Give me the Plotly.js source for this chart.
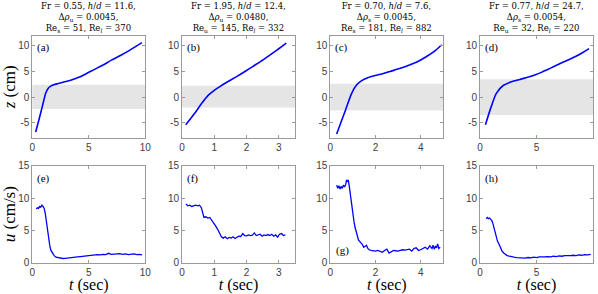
<!DOCTYPE html>
<html>
<head>
<meta charset="utf-8">
<script src="https://cdn.plot.ly/plotly-3.0.1.min.js"></script>
<style>html,body{margin:0;padding:0;background:#fff;}#plot{width:598px;height:294px;}</style>
</head>
<body>
<div id="plot"></div>
<script>
// ---- data ----
const tA = [0.3,0.6,0.9,1.2,1.4,1.6,1.9,2.3,2.8,3.4,4.1,4.8,5.5,6.3,7.0,7.8,8.6,9.7];
const zA = [-6.8,-4.3,-1.7,0.85,1.7,2.1,2.4,2.65,2.95,3.3,3.85,4.6,5.4,6.3,7.2,8.1,9.1,10.6];
const tB = [0.115,0.4,0.6,0.81,1.02,1.17,1.4,1.69,1.95,2.2,2.45,2.7,2.95,3.23];
const zB = [-5.4,-3.1,-1.3,0.35,1.42,2.05,2.95,4.0,5.0,6.0,7.0,8.1,9.2,10.5];
const tC = [0.28,0.65,0.95,1.17,1.39,1.65,1.98,2.35,2.64,3.1,3.53,3.9,4.26,4.6,4.93];
const zC = [-7.2,-2.8,0.78,2.4,3.2,3.75,4.2,4.6,5.0,5.6,6.3,7.0,7.9,8.9,10.2];
const tD = [0.48,1.0,1.46,2.05,2.6,3.1,3.7,4.3,4.9,5.48,6.2,6.96,7.7,8.45,9.1,9.65];
const zD = [-5.4,-1.8,0.78,2.26,2.85,3.2,3.55,3.9,4.35,4.87,5.6,6.4,7.15,7.9,8.7,9.45];

const tE = [0.35,0.45,0.55,0.65,0.75,0.85,0.95,1.05,1.15,1.25,1.35,1.45,1.55,1.65,1.8,1.95,2.1,2.3,2.5,2.7,2.9,3.1,3.3,3.5,3.75,4.0,4.25,4.5,4.75,5.0,5.25,5.5,5.75,6.0,6.25,6.5,6.75,7.0,7.25,7.5,7.75,8.0,8.25,8.5,8.75,9.0,9.25,9.5,9.7];
const uE = [8.3,8.5,8.4,8.7,8.6,8.9,8.7,8.4,7.6,6.2,4.8,3.6,2.6,1.9,1.35,1.05,0.85,0.75,0.7,0.65,0.68,0.7,0.75,0.8,0.85,0.9,0.95,1.0,1.05,1.15,1.2,1.15,1.25,1.2,1.3,1.25,1.45,1.3,1.35,1.3,1.4,1.3,1.35,1.25,1.3,1.35,1.25,1.3,1.2];
const tF = [0.12,0.18,0.24,0.3,0.36,0.42,0.48,0.54,0.6,0.64,0.68,0.74,0.8,0.86,0.92,0.98,1.04,1.1,1.16,1.22,1.28,1.34,1.4,1.46,1.52,1.58,1.64,1.7,1.76,1.82,1.88,1.94,2.0,2.06,2.12,2.18,2.24,2.3,2.36,2.42,2.48,2.54,2.6,2.66,2.72,2.78,2.84,2.9,2.96,3.02,3.08,3.14,3.2];
const uF = [9.1,8.8,8.9,8.7,8.8,8.9,8.8,8.9,8.5,7.8,7.0,7.1,6.9,7.0,6.6,6.2,5.7,5.2,4.5,4.0,3.8,4.0,3.7,3.9,3.8,4.0,3.75,4.0,4.1,4.05,4.5,4.2,4.15,4.3,4.2,4.25,4.6,4.2,4.3,4.4,4.1,4.3,4.2,4.35,4.2,4.4,4.1,4.3,3.95,4.4,4.5,4.2,4.3];
const tG = [0.28,0.33,0.38,0.43,0.48,0.53,0.58,0.63,0.68,0.72,0.76,0.8,0.84,0.88,0.92,0.96,1.0,1.05,1.1,1.15,1.2,1.25,1.3,1.36,1.42,1.48,1.54,1.6,1.66,1.72,1.8,1.9,2.0,2.1,2.2,2.3,2.4,2.5,2.6,2.7,2.8,2.9,3.0,3.1,3.2,3.3,3.4,3.5,3.6,3.7,3.8,3.9,4.0,4.1,4.2,4.3,4.4,4.5,4.55,4.6,4.65,4.7,4.75,4.8,4.86];
const uG = [12.0,11.5,11.9,11.4,11.8,11.5,12.0,11.7,12.1,12.8,12.6,12.7,11.8,10.6,9.6,8.5,7.6,6.3,5.4,4.6,3.9,3.5,3.3,3.1,2.8,2.4,2.5,2.7,2.2,2.0,1.9,1.8,1.8,1.9,1.7,1.6,1.9,2.1,1.5,1.7,1.9,1.85,1.8,1.9,2.0,1.95,2.0,2.1,1.8,2.2,2.3,1.9,2.0,2.2,2.4,2.1,2.6,2.2,2.7,2.1,2.5,2.3,2.9,2.2,2.4];
const tH = [0.55,0.65,0.75,0.85,0.95,1.05,1.15,1.25,1.35,1.45,1.55,1.65,1.75,1.85,1.95,2.1,2.25,2.4,2.6,2.8,3.0,3.25,3.5,3.75,4.0,4.25,4.5,4.75,5.0,5.25,5.5,5.75,6.0,6.25,6.5,6.75,7.0,7.25,7.5,7.75,8.0,8.25,8.5,8.75,9.0,9.25,9.5,9.8];
const uH = [6.8,7.0,6.8,6.9,6.7,6.5,6.0,5.3,4.6,4.0,3.3,3.0,2.5,2.2,1.8,1.5,1.3,1.1,1.0,0.9,0.85,0.8,0.75,0.8,0.7,0.8,0.75,0.85,0.8,0.9,0.85,0.9,0.95,0.9,1.0,0.95,1.05,1.0,1.1,1.05,1.1,1.15,1.1,1.2,1.15,1.25,1.2,1.3];

const shadeLo = [-2.3,-2.0,-2.6,-3.5];
const shadeHi = [2.4,2.2,2.6,3.5];
const tMax = [10, 3.5, 5, 10];
const tTicks = [[0,5,10],[0,1,2,3],[0,2,4],[0,5,10]];
const zRange = [-8, 12];
const zTicks = [-5,0,5,10];
const uRange = [0, 15];
const uTicks = [0,5,10,15];
const topLabels = ['(a)','(b)','(c)','(d)'];
const botLabels = ['(e)','(f)','(g)','(h)'];
const titleLine1 = ['Fr = 0.55, <i>h</i>/<i>d</i> = 11.6,','Fr = 1.95, <i>h</i>/<i>d</i> = 12.4,','Fr = 0.70, <i>h</i>/<i>d</i> = 7.6,','Fr = 0.77, <i>h</i>/<i>d</i> = 24.7,'];
const titleLine2 = ['Δ<i>ρ</i><sub>u</sub> = 0.0045,','Δ<i>ρ</i><sub>u</sub> = 0.0480,','Δ<i>ρ</i><sub>s</sub> = 0.0045,','Δ<i>ρ</i><sub>s</sub> = 0.0054,'];
const titleLine3 = ['Re<sub>s</sub> = 51, Re<sub><i>l</i></sub> = 370','Re<sub>u</sub> = 145, Re<sub><i>l</i></sub> = 332','Re<sub>s</sub> = 181, Re<sub><i>l</i></sub> = 882','Re<sub>u</sub> = 32, Re<sub><i>l</i></sub> = 220'];

const topT = [tA,tB,tC,tD], topZ = [zA,zB,zC,zD];
const botT = [tE,tF,tG,tH], botU = [uE,uF,uG,uH];

// ---- layout geometry ----
const W = 598, H = 294;
const lefts = [32.3, 182.0, 330.3, 480.0];
const pw = 113;
const topDom = [1-138.2/H, 1-35.5/H];
const botDom = [1-262.7/H, 1-165.7/H];

const serif = 'Liberation Serif, Times New Roman, serif';
const titleSerif = 'DejaVu Serif, serif';
const sans = 'Liberation Sans, Arial, sans-serif';
const axCol = '#9a9a9a';
const tickFont = {family: sans, size: 10, color: '#404040'};

const data = [];
const layout = {
  width: W, height: H, margin: {l:0,r:0,t:0,b:0},
  paper_bgcolor: '#fff', plot_bgcolor: '#fff', showlegend: false,
  shapes: [], annotations: []
};

function axBase(extra) {
  return Object.assign({
    showgrid: false, zeroline: false, showline: true, linecolor: axCol, linewidth: 1,
    mirror: 'ticks', ticks: 'inside', ticklen: 3, tickcolor: axCol, tickwidth: 1,
    tickfont: tickFont, fixedrange: true
  }, extra);
}

for (let i = 0; i < 4; i++) {
  const xd = [lefts[i]/W, (lefts[i]+pw)/W];
  const nT = i+1, nB = i+5;
  const xk = n => n === 1 ? 'xaxis' : 'xaxis'+n;
  const yk = n => n === 1 ? 'yaxis' : 'yaxis'+n;
  const xr = n => n === 1 ? 'x' : 'x'+n;
  const yr = n => n === 1 ? 'y' : 'y'+n;

  layout[xk(nT)] = axBase({domain: xd, anchor: yr(nT), range: [0, tMax[i]], tickvals: tTicks[i], ticktext: tTicks[i].map(String)});
  layout[yk(nT)] = axBase({domain: topDom, anchor: xr(nT), range: zRange, tickvals: zTicks, ticktext: zTicks.map(String)});
  layout[xk(nB)] = axBase({domain: xd, anchor: yr(nB), range: [0, tMax[i]], tickvals: tTicks[i], ticktext: tTicks[i].map(String),
    title: {text: '<i>t</i> (sec)', font: {family: serif, size: 16, color: '#000'}, standoff: 7}});
  layout[yk(nB)] = axBase({domain: botDom, anchor: xr(nB), range: uRange, tickvals: uTicks, ticktext: uTicks.map(String)});

  data.push({x: topT[i], y: topZ[i], xaxis: xr(nT), yaxis: yr(nT), type: 'scatter', mode: 'lines',
    line: {color: '#0000ff', width: 1.6, shape: 'spline', smoothing: 0.8}, hoverinfo: 'skip'});
  data.push({x: botT[i], y: botU[i], xaxis: xr(nB), yaxis: yr(nB), type: 'scatter', mode: 'lines',
    line: {color: '#0000ff', width: 1.3}, hoverinfo: 'skip'});

  layout.shapes.push({type: 'rect', xref: xr(nT)+' domain', yref: yr(nT), x0: 0, x1: 1, y0: shadeLo[i], y1: shadeHi[i],
    fillcolor: '#e5e5e5', line: {width: 0}, layer: 'below'});

  layout.annotations.push({text: topLabels[i], xref: xr(nT)+' domain', yref: yr(nT)+' domain', x: 0, y: 1,
    xanchor: 'left', yanchor: 'top', xshift: 3, yshift: -4, showarrow: false, font: {family: serif, size: 11, color: '#000'}});
  if (i === 2) {
    layout.annotations.push({text: botLabels[i], xref: xr(nB)+' domain', yref: yr(nB)+' domain', x: 0, y: 0,
      xanchor: 'left', yanchor: 'bottom', xshift: 4, yshift: 4, showarrow: false, font: {family: serif, size: 11, color: '#000'}});
  } else {
    layout.annotations.push({text: botLabels[i], xref: xr(nB)+' domain', yref: yr(nB)+' domain', x: 0, y: 1,
      xanchor: 'left', yanchor: 'top', xshift: 3, yshift: -4, showarrow: false, font: {family: serif, size: 11, color: '#000'}});
  }

  // panel title: one three-line text block above each top panel
  const cx = (lefts[i] + pw/2)/W;
  layout.annotations.push({text: titleLine1[i] + '<br>' + titleLine2[i] + '<br>' + titleLine3[i],
    xref: 'paper', yref: 'paper', x: cx, y: 1 - 17.5/H,
    xanchor: 'center', yanchor: 'middle', align: 'center', showarrow: false, borderpad: 0,
    font: {family: titleSerif, size: 8.5, color: '#000'}});
}

// y-axis titles (only leftmost panels)
layout.yaxis.title = {text: '<i>z</i> (cm)', font: {family: serif, size: 17, color: '#000'}, standoff: 2};
layout.yaxis5.title = {text: '<i>u</i> (cm/s)', font: {family: serif, size: 17, color: '#000'}, standoff: 2};

Plotly.newPlot('plot', data, layout, {staticPlot: true, displayModeBar: false});
</script>
</body>
</html>
